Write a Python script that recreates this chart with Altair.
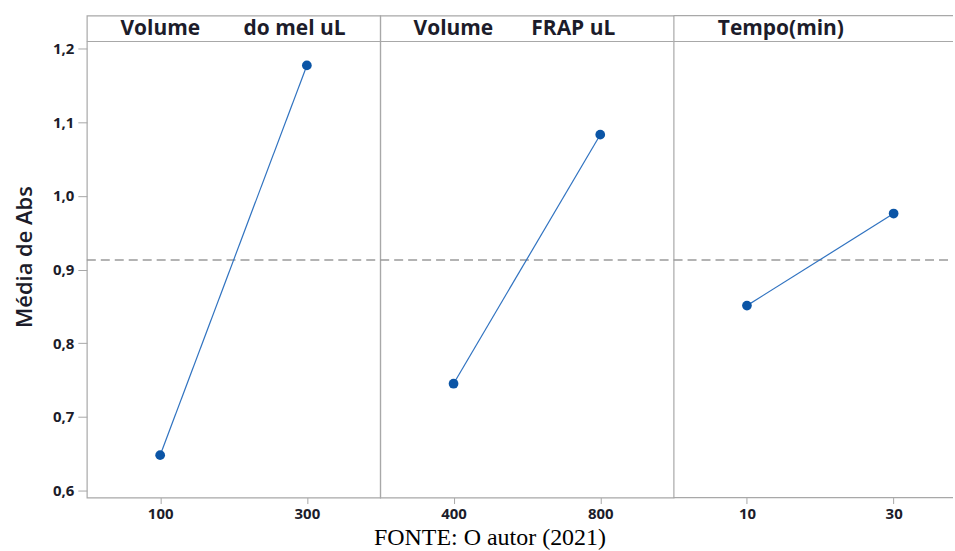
import altair as alt
import pandas as pd

# ---- data ----
headers = ["Volume\u00a0\u00a0\u00a0\u00a0\u00a0\u00a0\u00a0\u00a0do mel uL",
           "Volume\u00a0\u00a0\u00a0\u00a0\u00a0\u00a0\u00a0FRAP uL",
           "Tempo(min)"]
levels_mel = ["100", "300"]
abs_mel = [0.648, 1.177]
levels_frap = ["400", "800"]
abs_frap = [0.745, 1.083]
levels_tempo = ["10", "30"]
abs_tempo = [0.851, 0.976]
grand_mean = 0.913
y_ticks = [0.6, 0.7, 0.8, 0.9, 1.0, 1.1, 1.2]
caption = "FONTE: O autor (2021)"

# ---- style ----
FRAME = "#a8a8a8"
TEXT = "#1c1c2a"
LINE = "#2f72c0"
POINT = "#0b55a6"
FONT = "Open Sans"
PLOT_H = 483
HEADER_H = 26
Y_DOMAIN = [0.59052, 1.2447]


def panel(levels, values, header, header_x, width, first, pad, align,
          cap=False, open_right=False):
    df = pd.DataFrame({"level": levels, "abs": values})
    x = alt.X(
        "level:O", sort=levels,
        scale=alt.Scale(type="point", padding=pad, align=align),
        axis=alt.Axis(title=None, labelAngle=0, domain=False, grid=False,
                      tickSize=6, tickColor=FRAME, labelPadding=3,
                      labelFont=FONT, labelFontSize=15, labelFontWeight="bold",
                      labelColor=TEXT),
    )
    if first:
        yaxis = alt.Axis(values=y_ticks, title="Média de Abs",
                         labelExpr="replace(format(datum.value, '.1f'), '.', ',')",
                         domain=False, grid=False, tickSize=9, tickColor=FRAME,
                         labelPadding=4, labelFont=FONT, labelFontSize=15,
                         labelFontWeight="bold", labelColor=TEXT,
                         titleFont=FONT, titleFontSize=22, titleFontWeight=600,
                         titleColor=TEXT, titlePadding=16)
    else:
        yaxis = None
    yscale = alt.Scale(domain=Y_DOMAIN, nice=False, zero=False)
    y = alt.Y("abs:Q", scale=yscale, axis=yaxis)

    base = alt.Chart(df)
    line = base.mark_line(color=LINE, strokeWidth=1.2).encode(x=x, y=y)
    pts = base.mark_point(filled=True, size=95, opacity=1, color=POINT).encode(x=x, y=y)
    mean = alt.Chart(pd.DataFrame({"m": [grand_mean]})).mark_rule(
        color="#9a9a9a", strokeDash=[9, 5], strokeWidth=1.4
    ).encode(y=alt.Y("m:Q", scale=yscale, axis=yaxis if first else None),
             x=alt.value(0), x2=alt.value(width))
    hline = alt.Chart(pd.DataFrame({"h": [0]})).mark_rule(
        color=FRAME, strokeWidth=1.2
    ).encode(x=alt.value(0), x2=alt.value(width), y=alt.value(HEADER_H))
    htext = alt.Chart(pd.DataFrame({"t": [header]})).mark_text(
        font=FONT, fontSize=21, fontWeight="bold", color=TEXT,
        align="center", baseline="alphabetic"
    ).encode(text="t:N", x=alt.value(header_x), y=alt.value(19))
    layers = [mean, line, pts, hline, htext]
    if open_right:
        top = alt.Chart(pd.DataFrame({"h": [0]})).mark_rule(
            color=FRAME, strokeWidth=1.2
        ).encode(x=alt.value(0), x2=alt.value(width), y=alt.value(0))
        bottom = alt.Chart(pd.DataFrame({"h": [0]})).mark_rule(
            color=FRAME, strokeWidth=1.2
        ).encode(x=alt.value(0), x2=alt.value(width), y=alt.value(PLOT_H))
        layers += [top, bottom]
    if cap:
        ctext = alt.Chart(pd.DataFrame({"c": [caption]})).mark_text(
            font="Liberation Serif", fontSize=24, color="black",
            align="center", baseline="alphabetic"
        ).encode(text="c:N", x=alt.value(110), y=alt.value(531))
        layers.append(ctext)
    props = dict(width=width, height=PLOT_H)
    if open_right:
        props["view"] = alt.ViewBackground(stroke="transparent")
    return alt.layer(*layers).properties(**props)


p1 = panel(levels_mel, abs_mel, headers[0], 146.5, 294, True, 0.5, 0.5)
p2 = panel(levels_frap, abs_frap, headers[1], 134.5, 294, False, 0.5, 0.5, cap=True)
p3 = panel(levels_tempo, abs_tempo, headers[2], 107.5, 280, False, 0.4524, 0.5526,
           open_right=True)

chart = alt.hconcat(p1, p2, p3, spacing=0, bounds="flush").properties(
    padding={"left": 12, "top": 13, "right": 0, "bottom": 0},
    background="white",
).configure_view(stroke=FRAME, strokeWidth=1.2)

chart.save("out.html", embed_options={"renderer": "svg", "actions": False})
